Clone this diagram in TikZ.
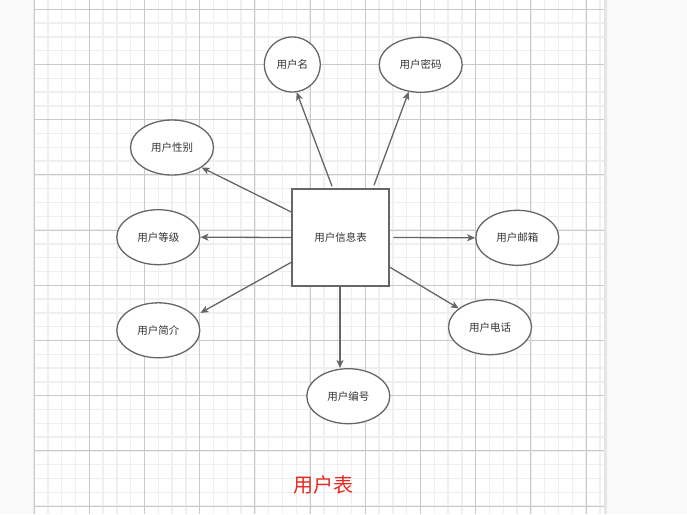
\documentclass[tikz,border=0pt]{standalone}
\usepackage{fontspec}
\newfontfamily\cjk{Noto Sans CJK SC}
\usetikzlibrary{shapes.geometric,arrows.meta}
\definecolor{ln}{HTML}{666666}
\definecolor{tx}{HTML}{333333}
\definecolor{gminor}{HTML}{EFEFEF}
\definecolor{gmajor}{HTML}{C9C9C9}
\definecolor{bgout}{HTML}{F9F9F9}
\definecolor{ttl}{HTML}{E8281E}
\tikzset{
  attr/.style={ellipse, draw=ln, line width=1.3pt, fill=white, minimum width=83pt, minimum height=55pt, inner sep=0pt, text=tx, font=\cjk\fontsize{10.5}{12}\selectfont},
  tablebox/.style={rectangle, draw=ln, line width=1.5pt, fill=white, minimum width=97pt, minimum height=97pt, inner sep=0pt, text=tx, font=\cjk\fontsize{10.5}{12}\selectfont},
  link/.style={draw=ln, line width=1.3pt, -{Stealth[length=8pt,width=7pt,inset=2pt]}},
  title/.style={text=ttl, font=\cjk\fontsize{20}{24}\selectfont, inner sep=0pt}
}
\begin{document}
\begin{tikzpicture}[x=1pt,y=-1pt]
\useasboundingbox (0,0) rectangle (687,514);
\fill[bgout] (0,0) rectangle (687,514);
\fill[white] (33,0) rectangle (605,514);
\begin{scope}
\clip (33,0) rectangle (604,514);
\foreach \i in {0,...,41} \draw[gminor, line width=1.3pt] ({34.1+13.8*\i},0) -- ({34.1+13.8*\i},514);
\foreach \i in {0,...,38} \draw[gminor, line width=1.3pt] (33,{-4.5+13.8*\i}) -- (604,{-4.5+13.8*\i});
\foreach \i in {0,...,10} \draw[gmajor, line width=0.9pt] ({34.1+55.2*\i},0) -- ({34.1+55.2*\i},514);
\foreach \i in {0,...,9} \draw[gmajor, line width=0.9pt] (33,{9.3+55.2*\i}) -- (604,{9.3+55.2*\i});
\end{scope}
\fill[gray!20] (604,0) rectangle (606.5,514);
\draw[gray!15, line width=0.8pt] (33,0) -- (33,514);

\node[tablebox] (r) at (340.5,237.5) {用户信息表};
\node[attr, minimum width=56pt] (name) at (292.3,64.5) {用户名};
\node[attr] (pwd) at (420.7,64.8) {用户密码};
\node[attr] (sex) at (172,147.5) {用户性别};
\node[attr] (lvl) at (158.3,237.2) {用户等级};
\node[attr] (intro) at (158.3,330.3) {用户简介};
\node[attr] (num) at (348.3,396.2) {用户编号};
\node[attr] (tel) at (490,327.2) {用户电话};
\node[attr] (mail) at (517.3,237.8) {用户邮箱};
\node[title] (t) at (323.3,485) {用户表};

\draw[link] ([xshift=-8.5pt,yshift=2pt]r.north) -- (name.-81);
\draw[link] ([xshift=33.5pt,yshift=3pt]r.north) -- (pwd.-114);
\draw[link] ([yshift=25.5pt]r.west) -- (sex.-34);
\draw[link] (r.west) -- (lvl.east);
\draw[link] ([yshift=-24.8pt]r.west) -- ([yshift=17.4pt]intro.east);
\draw[link] ([xshift=-0.5pt]r.south) -- ([xshift=-0.5pt]r.south |- num.north);
\draw[link] ([xshift=3.7pt]r.east) -- (mail.west);
\draw[link] ([xshift=-0.7pt,yshift=-29.2pt]r.east) -- (tel.149);
\end{tikzpicture}
\end{document}
